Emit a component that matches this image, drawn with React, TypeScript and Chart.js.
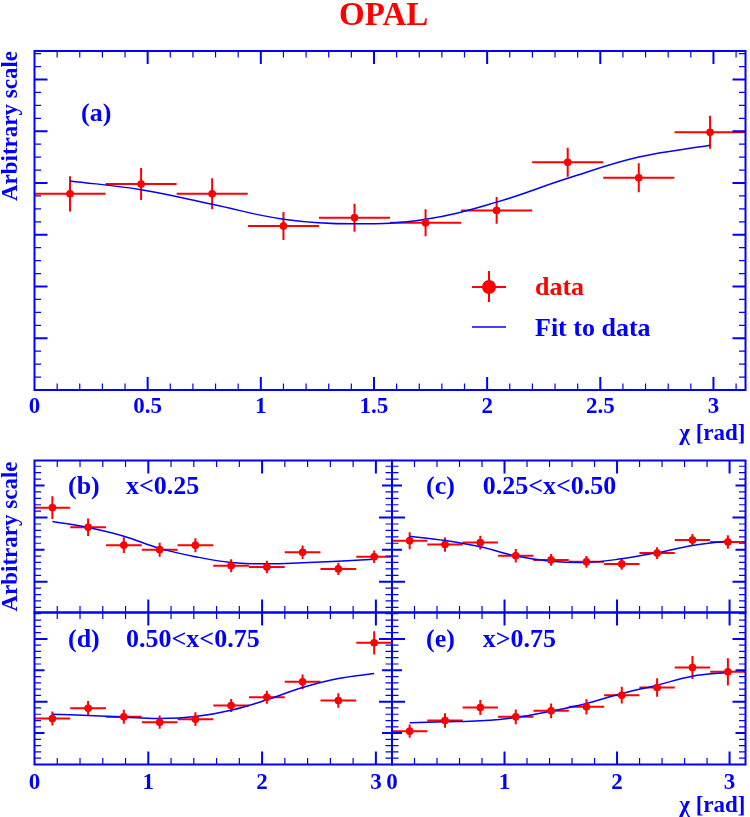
import React, { useEffect, useRef } from 'react';
import { Chart, registerables } from 'chart.js';

Chart.register(...registerables);

const BLUE = '#0000ff';
const RED = '#ff0000';
const SERIF = '"Liberation Serif", "Times New Roman", serif';

// chi bins (rad): 10 bins of width pi/10
const binCenters = [0.157, 0.471, 0.785, 1.1, 1.414, 1.728, 2.042, 2.356, 2.67, 2.985];
const binHalfWidth = 0.157;

const mainTickLabels = [0, 0.5, 1, 1.5, 2, 2.5, 3];
const lowerTickLabels = [0, 1, 2, 3];

// (a) all events
const aValues = [3.79, 3.98, 3.79, 3.17, 3.33, 3.23, 3.47, 4.4, 4.1, 4.98];
const aErrors = [0.34, 0.31, 0.3, 0.27, 0.27, 0.26, 0.26, 0.28, 0.28, 0.32];
const aFit = [4.04, 3.87, 3.59, 3.3, 3.21, 3.3, 3.63, 4.09, 4.5, 4.73];

// (b) x<0.25
const bValues = [0.2155, 0.185, 0.157, 0.15, 0.157, 0.125, 0.123, 0.146, 0.12, 0.139];
const bErrors = [0.0176, 0.0137, 0.0122, 0.0109, 0.0109, 0.0101, 0.0098, 0.0104, 0.0096, 0.0098];
const bFit = [0.194, 0.1845, 0.171, 0.152, 0.139, 0.13, 0.128, 0.1296, 0.132, 0.135];

// (c) 0.25<x<0.50
const cValues = [0.164, 0.158, 0.161, 0.1405, 0.134, 0.131, 0.1276, 0.1446, 0.165, 0.162];
const cErrors = [0.0132, 0.0111, 0.0106, 0.0104, 0.0093, 0.0091, 0.0091, 0.0093, 0.0093, 0.0106];
const cFit = [0.171, 0.1643, 0.1545, 0.14, 0.132, 0.13, 0.1358, 0.1452, 0.1565, 0.1633];

// (d) 0.50<x<0.75
const dValues = [0.1732, 0.1897, 0.1759, 0.1674, 0.1722, 0.1939, 0.2072, 0.2316, 0.2019, 0.2937];
const dErrors = [0.0111, 0.0114, 0.0111, 0.0106, 0.0109, 0.0103, 0.0103, 0.0117, 0.0117, 0.0186];
const dFit = [0.1801, 0.178, 0.1754, 0.1732, 0.1764, 0.1865, 0.203, 0.2226, 0.2369, 0.2449];

// (e) x>0.75
const eValues = [0.1531, 0.1701, 0.1907, 0.1759, 0.1854, 0.1918, 0.2104, 0.2226, 0.2544, 0.2475];
const eErrors = [0.0106, 0.0114, 0.0119, 0.0117, 0.0117, 0.0122, 0.0133, 0.0146, 0.0183, 0.0218];
const eFit = [0.1663, 0.1679, 0.1695, 0.1748, 0.1849, 0.1971, 0.213, 0.2263, 0.2406, 0.2465];

type Txt = { t: string; x: number; y: number; size: number; color: string; rot?: boolean };

type Spec = {
  left: number;
  top: number;
  width: number;
  height: number;
  pad: { left: number; top: number; right: number; bottom: number };
  yMin: number;
  yMax: number;
  yMajor: number;
  yMid?: number;
  yMinor: number;
  xMajor: number;
  xMinor: number;
  xLabels?: number[];
  xPad?: number;
  xAxisHeight?: number;
  xTitle?: string;
  values: number[];
  errors: number[];
  fit: number[];
  texts: Txt[];
  legend?: boolean;
};

const steps = (min: number, max: number, step: number) => {
  const out: number[] = [];
  const k0 = Math.ceil(min / step - 1e-6);
  const k1 = Math.floor(max / step + 1e-6);
  for (let k = k0; k <= k1; k++) out.push(k * step);
  return out;
};
const isMult = (v: number, s: number) => Math.abs(v / s - Math.round(v / s)) < 1e-6;

const opalPlugin = (p: Spec) => ({
  id: 'opalDecor',
  beforeDatasetsDraw(chart: Chart) {
    const ctx = chart.ctx;
    const xs = chart.scales.x;
    const ys = chart.scales.y;
    ctx.save();
    ctx.strokeStyle = RED;
    ctx.lineWidth = 2;
    p.values.forEach((v, i) => {
      const cx = binCenters[i];
      const py = ys.getPixelForValue(v);
      const px = xs.getPixelForValue(cx);
      ctx.beginPath();
      ctx.moveTo(xs.getPixelForValue(cx - binHalfWidth), py);
      ctx.lineTo(xs.getPixelForValue(cx + binHalfWidth), py);
      ctx.moveTo(px, ys.getPixelForValue(v - p.errors[i]));
      ctx.lineTo(px, ys.getPixelForValue(v + p.errors[i]));
      ctx.stroke();
    });
    ctx.restore();
  },
  afterDraw(chart: Chart) {
    const ctx = chart.ctx;
    const { left, right, top, bottom } = chart.chartArea;
    const xs = chart.scales.x;
    const ys = chart.scales.y;
    ctx.save();
    ctx.strokeStyle = BLUE;

    // inward ticks, all four sides
    steps(xs.min, xs.max, p.xMinor).forEach((v) => {
      if (v <= xs.min + 1e-6 || v >= xs.max - 1e-6) return;
      const major = isMult(v, p.xMajor);
      const len = major ? 13 : 6.5;
      const px = xs.getPixelForValue(v);
      ctx.lineWidth = major ? 2 : 1.2;
      ctx.beginPath();
      ctx.moveTo(px, bottom);
      ctx.lineTo(px, bottom - len);
      ctx.moveTo(px, top);
      ctx.lineTo(px, top + len);
      ctx.stroke();
    });
    steps(ys.min, ys.max, p.yMinor).forEach((v) => {
      if (v <= ys.min + 1e-6 || v >= ys.max - 1e-6) return;
      const major = isMult(v, p.yMajor);
      const mid = !major && p.yMid !== undefined && isMult(v, p.yMid);
      const len = major ? 13 : mid ? 10 : 6.5;
      const py = ys.getPixelForValue(v);
      ctx.lineWidth = major || mid ? 2 : 1.2;
      ctx.beginPath();
      ctx.moveTo(left, py);
      ctx.lineTo(left + len, py);
      ctx.moveTo(right, py);
      ctx.lineTo(right - len, py);
      ctx.stroke();
    });

    ctx.lineWidth = 2;
    ctx.strokeRect(left, top, right - left, bottom - top);

    p.texts.forEach((tx) => {
      ctx.fillStyle = tx.color;
      ctx.font = `bold ${tx.size}px ${SERIF}`;
      ctx.textBaseline = 'alphabetic';
      if (tx.rot) {
        ctx.save();
        ctx.translate(tx.x, tx.y);
        ctx.rotate(-Math.PI / 2);
        ctx.textAlign = 'right';
        ctx.fillText(tx.t, 0, 0);
        ctx.restore();
      } else {
        ctx.textAlign = 'left';
        ctx.fillText(tx.t, tx.x, tx.y);
      }
    });

    if (p.legend) {
      // data marker
      ctx.strokeStyle = RED;
      ctx.fillStyle = RED;
      ctx.lineWidth = 2;
      ctx.beginPath();
      ctx.moveTo(472, 287);
      ctx.lineTo(506, 287);
      ctx.moveTo(489, 271);
      ctx.lineTo(489, 302);
      ctx.stroke();
      ctx.beginPath();
      ctx.arc(489, 287, 7, 0, Math.PI * 2);
      ctx.fill();
      // fit line
      ctx.strokeStyle = BLUE;
      ctx.lineWidth = 1.5;
      ctx.beginPath();
      ctx.moveTo(472, 327);
      ctx.lineTo(506, 327);
      ctx.stroke();
    }
    ctx.restore();
  },
});

const Panel: React.FC<{ spec: Spec }> = ({ spec }) => {
  const canvasRef = useRef<HTMLCanvasElement | null>(null);

  useEffect(() => {
    if (!canvasRef.current) return;
    const p = spec;
    const tickFont = { family: SERIF, size: 23, weight: 'bold' as const };
    const chart = new Chart(canvasRef.current, {
      type: 'scatter',
      data: {
        datasets: [
          {
            data: binCenters.map((x, i) => ({ x, y: p.values[i] })),
            backgroundColor: RED,
            borderColor: RED,
            pointRadius: 3.5,
            pointHoverRadius: 3.5,
            order: 0,
          },
          {
            data: binCenters.map((x, i) => ({ x, y: p.fit[i] })),
            showLine: true,
            borderColor: BLUE,
            borderWidth: 1.5,
            pointRadius: 0,
            pointHoverRadius: 0,
            tension: 0.4,
            fill: false,
            order: 1,
          },
        ],
      },
      options: {
        animation: false,
        responsive: false,
        events: [],
        layout: { padding: p.pad },
        plugins: { legend: { display: false }, tooltip: { enabled: false } },
        scales: {
          x: {
            type: 'linear',
            min: 0,
            max: Math.PI,
            display: !!p.xLabels,
            grid: { display: false, drawTicks: false },
            border: { display: false },
            ticks: {
              color: BLUE,
              font: tickFont,
              padding: p.xPad ?? 3,
              autoSkip: false,
              maxRotation: 0,
              callback: (v) => String(v),
            },
            afterBuildTicks: (axis) => {
              if (p.xLabels) axis.ticks = p.xLabels.map((v) => ({ value: v }));
            },
            afterFit: (axis) => {
              if (p.xAxisHeight) axis.height = p.xAxisHeight;
              axis.paddingLeft = 0;
              axis.paddingRight = 0;
            },
            title: {
              display: !!p.xTitle,
              text: p.xTitle ?? '',
              align: 'end',
              color: BLUE,
              font: tickFont,
              padding: 0,
            },
          },
          y: { type: 'linear', min: p.yMin, max: p.yMax, display: false },
        },
      },
      plugins: [opalPlugin(p)],
    });
    return () => chart.destroy();
  }, [spec]);

  return (
    <canvas
      ref={canvasRef}
      width={spec.width}
      height={spec.height}
      style={{ position: 'absolute', left: spec.left, top: spec.top, width: spec.width, height: spec.height }}
    />
  );
};

const lowerRow1 = { yMin: 0.052, yMax: 0.289, yMajor: 0.1, yMid: 0.05, yMinor: 0.01, xMajor: 1, xMinor: 0.2 };
const lowerRow2 = { yMin: 0.1, yMax: 0.342, yMajor: 0.1, yMid: 0.05, yMinor: 0.01, xMajor: 1, xMinor: 0.2 };

const specs: Spec[] = [
  {
    left: 0, top: 0, width: 750, height: 450,
    pad: { left: 34.5, top: 51, right: 2, bottom: 2 },
    yMin: 0, yMax: 6.55, yMajor: 1, yMinor: 0.25, xMajor: 0.5, xMinor: 0.1,
    xLabels: mainTickLabels, xPad: 3, xAxisHeight: 58, xTitle: 'χ [rad]',
    values: aValues, errors: aErrors, fit: aFit,
    legend: true,
    texts: [
      { t: 'OPAL', x: 339, y: 25, size: 33, color: RED },
      { t: 'Arbitrary scale', x: 17, y: 51, size: 23, color: BLUE, rot: true },
      { t: '(a)', x: 81, y: 121, size: 26, color: BLUE },
      { t: 'data', x: 535, y: 295, size: 26, color: RED },
      { t: 'Fit to data', x: 535, y: 336, size: 26, color: BLUE },
    ],
  },
  {
    left: 0, top: 450, width: 400, height: 170,
    pad: { left: 34.5, top: 10.5, right: 8, bottom: 7.5 },
    ...lowerRow1,
    values: bValues, errors: bErrors, fit: bFit,
    texts: [
      { t: 'Arbitrary scale', x: 17, y: 11.5, size: 23, color: BLUE, rot: true },
      { t: '(b)', x: 68, y: 44, size: 26, color: BLUE },
      { t: 'x<0.25', x: 126, y: 44, size: 26, color: BLUE },
    ],
  },
  {
    left: 376, top: 450, width: 374, height: 170,
    pad: { left: 16, top: 10.5, right: 2, bottom: 7.5 },
    ...lowerRow1,
    values: cValues, errors: cErrors, fit: cFit,
    texts: [
      { t: '(c)', x: 50, y: 44, size: 26, color: BLUE },
      { t: '0.25<x<0.50', x: 106.7, y: 44, size: 26, color: BLUE },
    ],
  },
  {
    left: 0, top: 600, width: 400, height: 230,
    pad: { left: 34.5, top: 12.5, right: 8, bottom: 10.2 },
    ...lowerRow2,
    xLabels: lowerTickLabels, xPad: 4.7, xAxisHeight: 55.3,
    values: dValues, errors: dErrors, fit: dFit,
    texts: [
      { t: '(d)', x: 68, y: 47, size: 26, color: BLUE },
      { t: '0.50<x<0.75', x: 126, y: 47, size: 26, color: BLUE },
    ],
  },
  {
    left: 376, top: 600, width: 374, height: 230,
    pad: { left: 16, top: 12.5, right: 2, bottom: 10.2 },
    ...lowerRow2,
    xLabels: lowerTickLabels, xPad: 4.7, xAxisHeight: 55.3, xTitle: 'χ [rad]',
    values: eValues, errors: eErrors, fit: eFit,
    texts: [
      { t: '(e)', x: 50, y: 47, size: 26, color: BLUE },
      { t: 'x>0.75', x: 106.7, y: 47, size: 26, color: BLUE },
    ],
  },
];

const App: React.FC = () => (
  <div style={{ position: 'absolute', left: 0, top: 0, width: 750, height: 817, overflow: 'hidden', background: '#fff' }}>
    {specs.map((s, i) => (
      <Panel key={i} spec={s} />
    ))}
  </div>
);

export default App;
